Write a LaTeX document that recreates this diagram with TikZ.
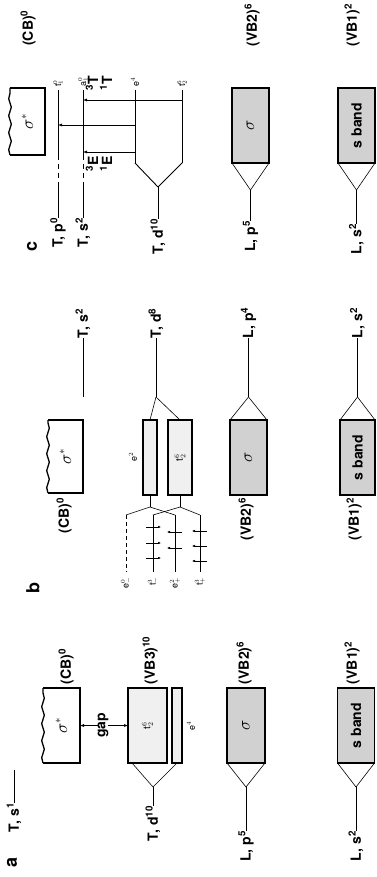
\documentclass[tikz,border=0pt]{standalone}
\usepackage{fontspec}
\setmainfont{TeX Gyre Heros}
\usetikzlibrary{arrows.meta,decorations.pathmorphing}
\begin{document}
\begin{tikzpicture}[x=1pt,y=-1pt,
  txt/.style={rotate=90, inner sep=0pt, outer sep=0pt},
  big/.style={txt, font=\fontsize{14}{14}\selectfont\bfseries},
  lett/.style={txt, font=\fontsize{18}{18}\selectfont\bfseries},
  sml/.style={txt, font=\fontsize{9}{9}\selectfont},
  term/.style={txt, font=\fontsize{14}{14}\selectfont\bfseries},
  bx/.style={draw, line width=1.4pt, inner sep=0pt, outer sep=0pt, minimum height=75pt},
  dotbox/.style={bx, fill=black!18},
  litebox/.style={bx, fill=black!6},
  cbx/.style={inner sep=0pt, outer sep=0pt, minimum height=75pt},
  cbline/.style={line width=1.3pt},
  wavy/.style={line width=1.3pt, decorate, decoration={snake, amplitude=1.3pt, segment length=17pt}},
  lev/.style={line width=0.9pt},
  fanl/.style={line width=0.6pt},
  dsh/.style={line width=0.9pt, dash pattern=on 5pt off 4pt},
  tr/.style={line width=0.5pt, -{Latex[length=4pt,width=3pt]}},
  spin/.style={line width=0.5pt, -{Latex[length=3pt,width=2.6pt]}},
]
\useasboundingbox (0,0) rectangle (377,877);

% ================= panel c =================
\node[lett] (lc) at (32,246) {c};
\node[big] (cblc) at (28,28) {(CB)\textsuperscript{0}};
\node[cbx, minimum width=35pt, minimum height=67pt] (cbc) at (27.5,121.5)
  {\rotatebox{90}{\fontsize{16}{16}\selectfont$\sigma^{*}$}};
\draw[cbline] (cbc.north west) -- (cbc.north east) -- (cbc.south east) -- (cbc.south west);
\draw[wavy] (cbc.south west) -- (cbc.north west);

\node[big, anchor=east] (tp0) at (58,218) {T, p\textsuperscript{0}};
\node[big, anchor=east] (ts2c) at (83,218) {T, s\textsuperscript{2}};
\node[sml, anchor=west] (t1c) at (58,87) {t$_1^0$};
\node[sml, anchor=west] (a1c) at (83,87) {a$_1^0$};
\coordinate (p0d1) at (58,187); \coordinate (p0d2) at (58,157); \coordinate (p0e) at (58,90);
\coordinate (s2d1) at (83,187); \coordinate (s2d2) at (83,157); \coordinate (s2e) at (83,90);
\draw[lev] (tp0.east) -- (p0d1);
\draw[dsh] (p0d1) -- (p0d2);
\draw[lev] (p0d2) -- (p0e);
\draw[lev] (ts2c.east) -- (s2d1);
\draw[dsh] (s2d1) -- (s2d2);
\draw[lev] (s2d2) -- (s2e);

\node[big, anchor=east] (tdc) at (158,219) {T, d\textsuperscript{10}};
\coordinate (apc) at (158,187);
\coordinate (ec0) at (135,163); \coordinate (ec1) at (135,90);
\coordinate (tc0) at (182,163); \coordinate (tc1) at (182,90);
\draw[lev] (tdc.east) -- (apc);
\draw[lev] (apc) -- (ec0);
\draw[lev] (apc) -- (tc0);
\draw[lev] (ec0) -- (ec1);
\draw[lev] (tc0) -- (tc1);
\node[sml, anchor=west] (e4c) at (135,87) {e$^4$};
\node[sml, anchor=west] (t2c) at (182,87) {t$_2^6$};

\coordinate (x1s) at (182,100); \coordinate (x1e) at (83,100);
\coordinate (x2s) at (135,125); \coordinate (x2e) at (58,125);
\coordinate (x3s) at (135,152); \coordinate (x3e) at (83,152);
\draw[tr] (x1s) -- (x1e);
\draw[tr] (x2s) -- (x2e);
\draw[tr] (x3s) -- (x3e);
\node[term] (T3) at (92,83) {\textsuperscript{3}T};
\node[term] (T1) at (106,83) {\textsuperscript{1}T};
\node[term] (E3) at (92,164) {\textsuperscript{3}E};
\node[term] (E1) at (106,164) {\textsuperscript{1}E};

\node[dotbox, minimum width=37pt] (vb2c) at (250.5,125.5)
  {\rotatebox{90}{\fontsize{16}{16}\selectfont$\sigma$}};
\node[big] (vb2lc) at (252,25) {(VB2)\textsuperscript{6}};
\node[big, anchor=east] (lp5c) at (250.5,221) {L, p\textsuperscript{5}};
\coordinate (apc2) at (250.5,190);
\draw[lev] (lp5c.east) -- (apc2);
\draw[fanl] (apc2) -- (vb2c.south west);
\draw[fanl] (apc2) -- (vb2c.south east);

\node[dotbox, minimum width=37pt] (vb1c) at (356.5,125.5)
  {\rotatebox{90}{\fontsize{14}{14}\selectfont\bfseries s band}};
\node[big] (vb1lc) at (352,25) {(VB1)\textsuperscript{2}};
\node[big, anchor=east] (ls2c) at (356.5,224) {L, s\textsuperscript{2}};
\coordinate (apc3) at (356.5,190);
\draw[lev] (ls2c.east) -- (apc3);
\draw[fanl] (apc3) -- (vb1c.south west);
\draw[fanl] (apc3) -- (vb1c.south east);

% ================= panel b =================
\node[lett] (lb) at (33,588) {b};
\node[big, anchor=west] (ts2b) at (83,338) {T, s\textsuperscript{2}};
\coordinate (ts2bl) at (83,397);
\draw[lev] (ts2bl) -- (ts2b.west);

\node[cbx, minimum width=35pt, minimum height=73pt] (cbb) at (65.5,456.5)
  {\rotatebox{90}{\fontsize{16}{16}\selectfont$\sigma^{*}$}};
\draw[cbline] (cbb.north west) -- (cbb.north east) -- (cbb.south east) -- (cbb.south west);
\draw[wavy] (cbb.south west) -- (cbb.north west);
\node[big, anchor=east] (cblb) at (64,498) {(CB)\textsuperscript{0}};

\node[big, anchor=west] (td8) at (156,338) {T, d\textsuperscript{8}};
\coordinate (apb) at (156,397);
\draw[lev] (apb) -- (td8.west);
\node[litebox, minimum width=14pt] (e2b) at (150,457.5) {};
\node[litebox, minimum width=24pt] (t2b) at (180,457.5)
  {\rotatebox{90}{\fontsize{10}{10}\selectfont t$_2^6$}};
\node[sml] (e2lb) at (133,457) {e$^2$};
\draw[fanl] (apb) -- (e2b.north);
\draw[fanl] (apb) -- (t2b.north);
\coordinate (e2s) at (150,507); \coordinate (t2s) at (180,507);
\draw[fanl] (e2b.south) -- (e2s);
\draw[fanl] (t2b.south) -- (t2s);
\coordinate (emt) at (126,515); \coordinate (emb) at (126,572);
\coordinate (tmt) at (153,515); \coordinate (tmb) at (153,572);
\coordinate (ept) at (175,515); \coordinate (epb) at (175,572);
\coordinate (tpt) at (200,515); \coordinate (tpb) at (200,572);
\draw[fanl] (e2s) -- (emt);
\draw[fanl] (e2s) -- (ept);
\draw[fanl] (t2s) -- (tmt);
\draw[fanl] (t2s) -- (tpt);
\draw[line width=0.7pt, dash pattern=on 4pt off 3pt] (emt) -- (emb);
\draw[line width=0.8pt] (tmt) -- (tmb);
\draw[line width=0.8pt] (ept) -- (epb);
\draw[line width=0.8pt] (tpt) -- (tpb);
\node[sml, anchor=east] (emlb) at (126,577) {e$_-^0$};
\node[sml, anchor=east] (tmlb) at (153,577) {t$_-^3$};
\node[sml, anchor=east] (eplb) at (175,577) {e$_+^2$};
\node[sml, anchor=east] (tplb) at (200,577) {t$_+^3$};
\foreach \yy in {527,543,558} \draw[spin] (146,\yy) -- (161,\yy);
\foreach \yy in {532,548} \draw[spin] (182,\yy) -- (167,\yy);
\foreach \yy in {531,546,561} \draw[spin] (207,\yy) -- (192,\yy);

\node[dotbox, minimum width=37pt] (vb2b) at (248.5,457.5)
  {\rotatebox{90}{\fontsize{16}{16}\selectfont$\sigma$}};
\node[big, anchor=east] (vb2lb) at (246,498) {(VB2)\textsuperscript{6}};
\node[big, anchor=west] (lp4) at (248.5,338) {L, p\textsuperscript{4}};
\coordinate (apb2) at (248.5,397);
\draw[lev] (apb2) -- (lp4.west);
\draw[fanl] (apb2) -- (vb2b.north west);
\draw[fanl] (apb2) -- (vb2b.north east);

\node[dotbox, minimum width=35pt] (vb1b) at (357.5,457.5)
  {\rotatebox{90}{\fontsize{14}{14}\selectfont\bfseries s band}};
\node[big, anchor=east] (vb1lb) at (354,498) {(VB1)\textsuperscript{2}};
\node[big, anchor=west] (ls2b) at (357.5,338) {L, s\textsuperscript{2}};
\coordinate (apb3) at (357.5,397);
\draw[lev] (apb3) -- (ls2b.west);
\draw[fanl] (apb3) -- (vb1b.north west);
\draw[fanl] (apb3) -- (vb1b.north east);

% ================= panel a =================
\node[lett] (la) at (12,862) {a};
\node[big, anchor=east] (ts1) at (14,803) {T, s\textsuperscript{1}};
\coordinate (ts1t) at (14,770);
\draw[lev] (ts1.east) -- (ts1t);

\node[cbx, minimum width=37pt] (cba) at (61.5,725.5)
  {\rotatebox{90}{\fontsize{16}{16}\selectfont$\sigma^{*}$}};
\draw[cbline] (cba.north west) -- (cba.north east) -- (cba.south east) -- (cba.south west);
\draw[wavy] (cba.south west) -- (cba.north west);
\node[big, anchor=west] (cbla) at (66,684) {(CB)\textsuperscript{0}};

\node[litebox, minimum width=39pt] (vb3a) at (147.5,725.5)
  {\rotatebox{90}{\fontsize{10}{10}\selectfont t$_2^6$}};
\node[litebox, minimum width=10pt] (e4a) at (177,725.5) {};
\node[sml] (e4la) at (191,725.5) {e$^4$};
\node[big, anchor=west] (vb3la) at (150,684) {(VB3)\textsuperscript{10}};

\node[big] (gap) at (103,725.5) {gap};
\draw[tr] (gap.north) -- (cba.east);
\draw[tr] (gap.south) -- (vb3a.west);

\node[big, anchor=east] (td10a) at (153,806) {T, d\textsuperscript{10}};
\coordinate (apa) at (153,787);
\coordinate (vb3f) at (132,763);
\draw[lev] (td10a.east) -- (apa);
\draw[fanl] (apa) -- (vb3f);
\draw[fanl] (apa) -- (e4a.south);

\node[dotbox, minimum width=38pt] (vb2a) at (246,725.5)
  {\rotatebox{90}{\fontsize{16}{16}\selectfont$\sigma$}};
\node[big, anchor=west] (vb2la) at (244,684) {(VB2)\textsuperscript{6}};
\node[big, anchor=east] (lp5a) at (246,831) {L, p\textsuperscript{5}};
\coordinate (apa2) at (246,787);
\draw[lev] (lp5a.east) -- (apa2);
\draw[fanl] (apa2) -- (vb2a.south west);
\draw[fanl] (apa2) -- (vb2a.south east);

\node[dotbox, minimum width=37pt] (vb1a) at (356,725.5)
  {\rotatebox{90}{\fontsize{14}{14}\selectfont\bfseries s band}};
\node[big, anchor=west] (vb1la) at (352,684) {(VB1)\textsuperscript{2}};
\node[big, anchor=east] (ls2a) at (356,831) {L, s\textsuperscript{2}};
\coordinate (apa3) at (356,787);
\draw[lev] (ls2a.east) -- (apa3);
\draw[fanl] (apa3) -- (vb1a.south west);
\draw[fanl] (apa3) -- (vb1a.south east);
\end{tikzpicture}
\end{document}
